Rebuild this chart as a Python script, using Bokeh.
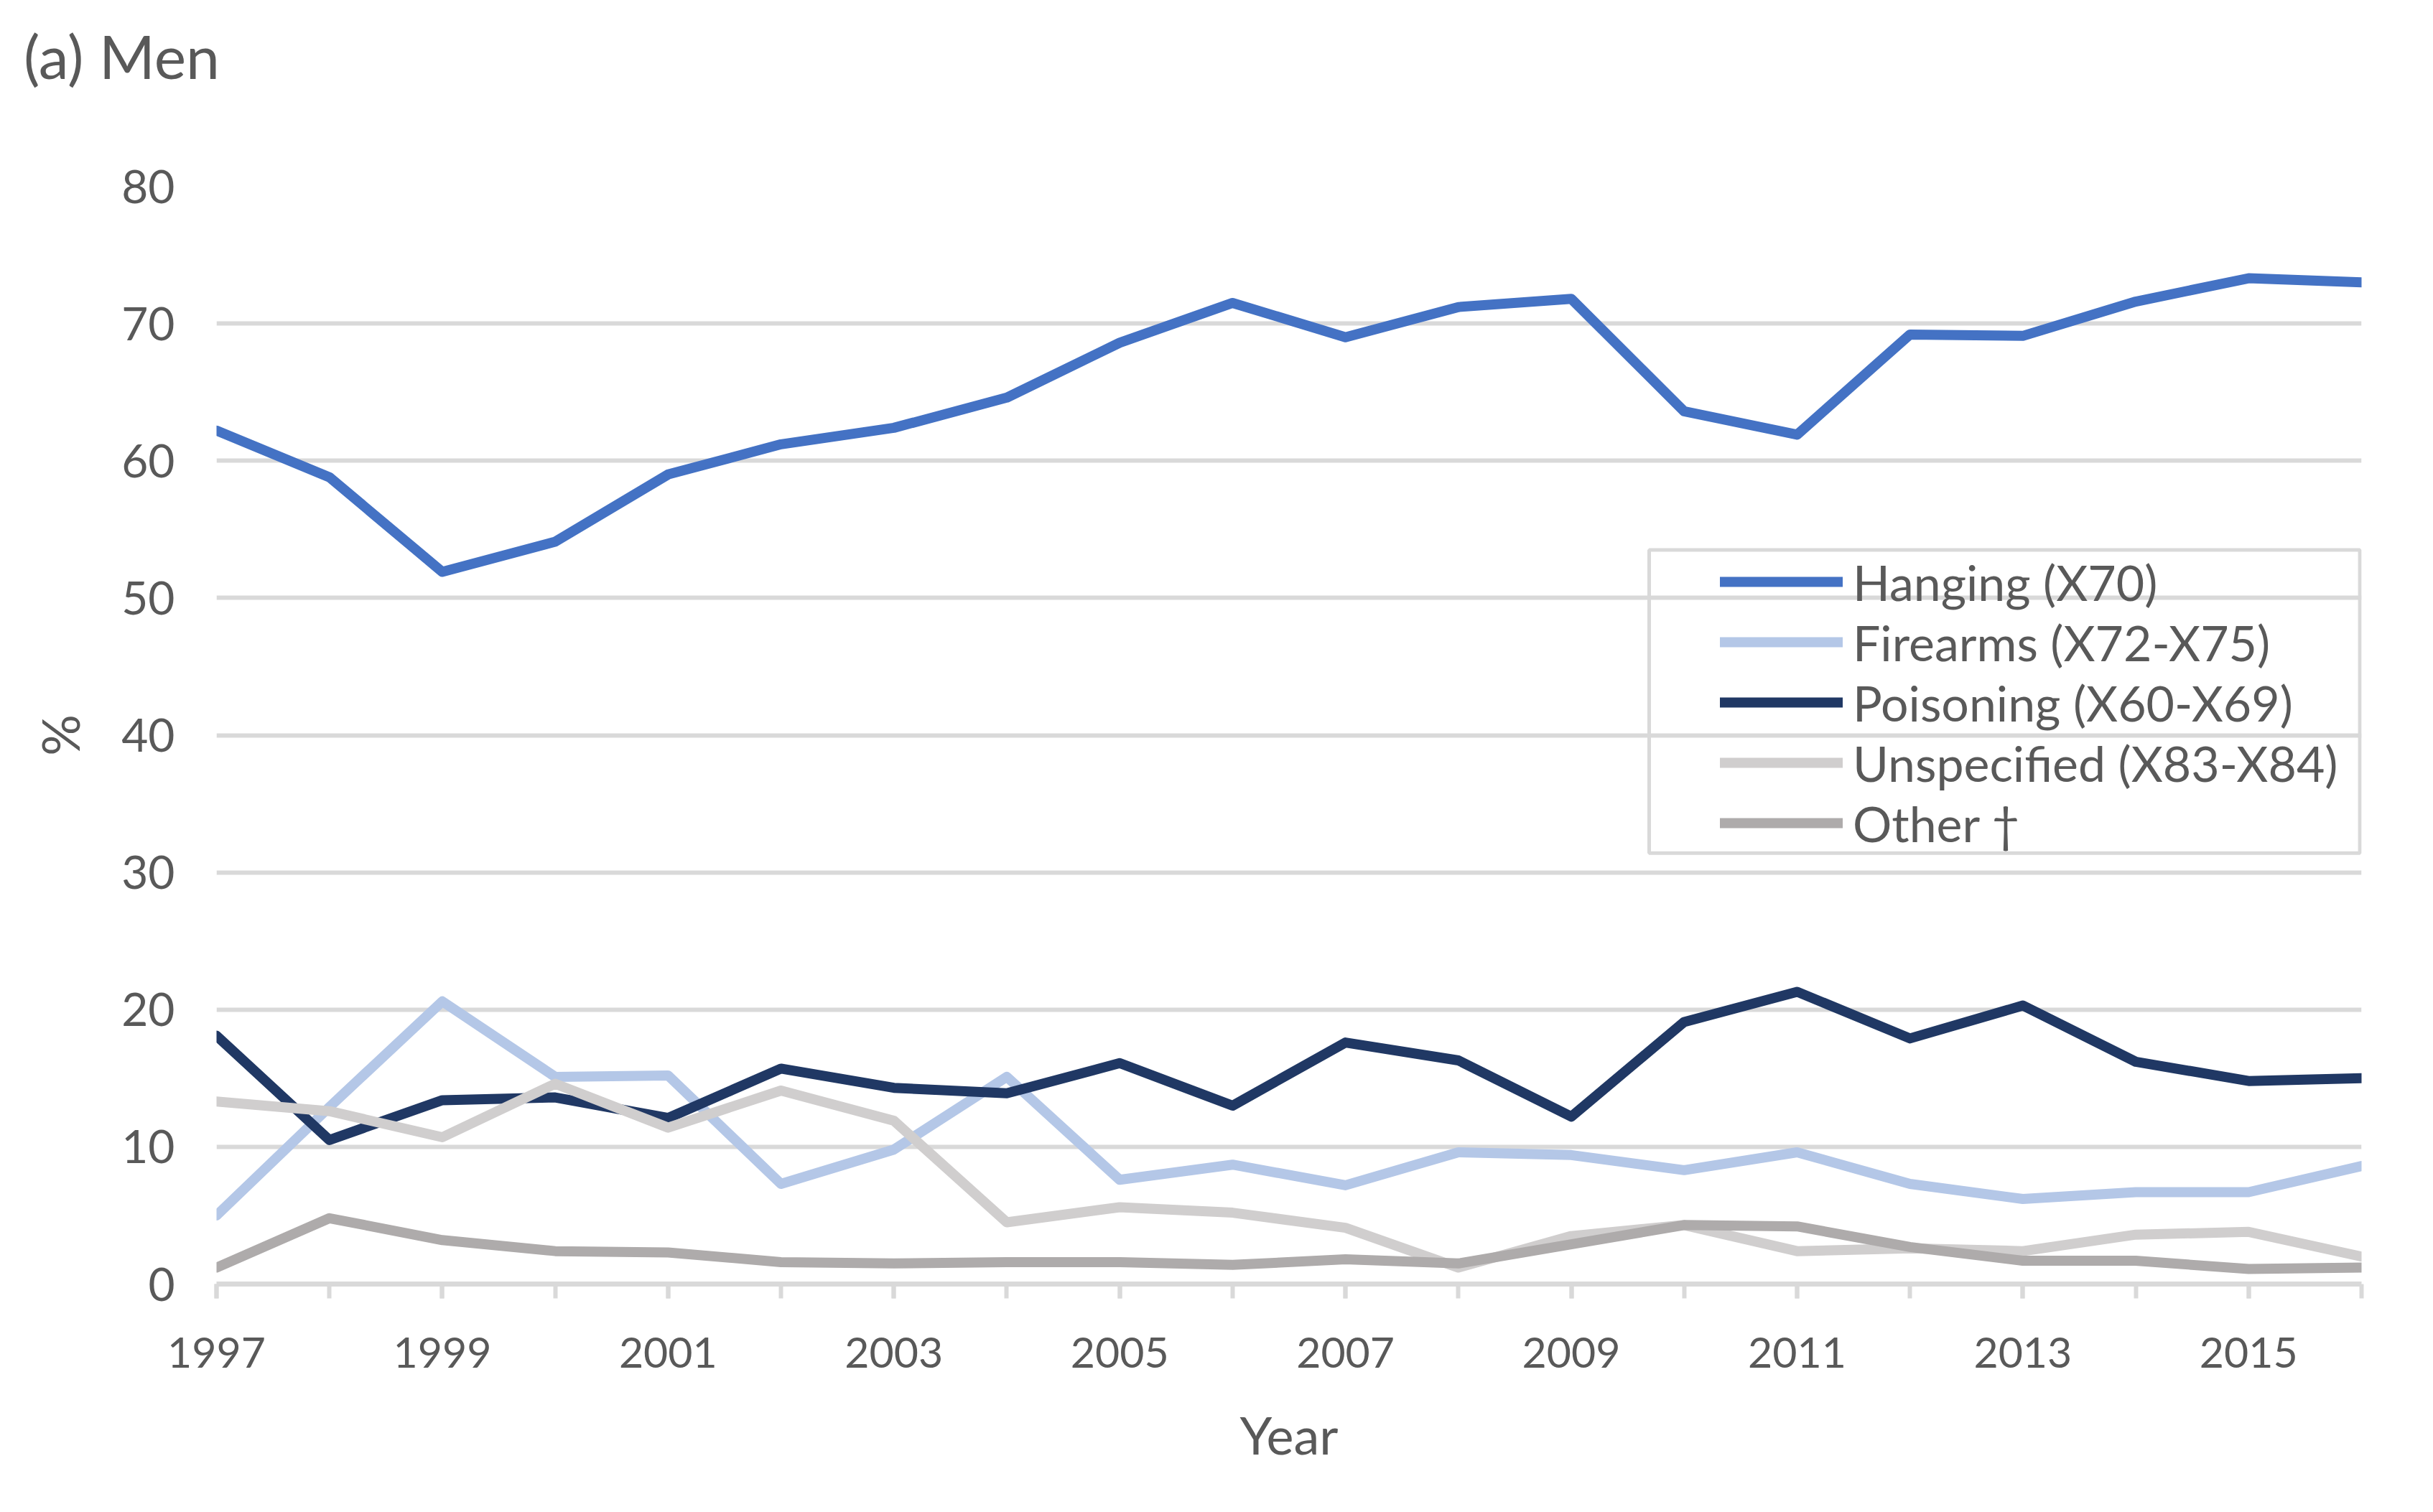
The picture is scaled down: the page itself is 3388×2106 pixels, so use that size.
from bokeh.plotting import figure
from bokeh.models import (Range1d, FixedTicker, Legend, LegendItem,
                          BoxAnnotation, Div)
from bokeh.layouts import column
from bokeh.embed import file_html
from bokeh.resources import INLINE

# ---- data ----
years = list(range(1997, 2017))
label_years = [1997, 1999, 2001, 2003, 2005, 2007, 2009, 2011, 2013, 2015]
y_ticks = [0, 10, 20, 30, 40, 50, 60, 70, 80]

hanging = [62.2, 58.8, 51.9, 54.1, 59.0, 61.2, 62.4, 64.6, 68.6, 71.5,
           69.0, 71.2, 71.8, 63.6, 61.9, 69.2, 69.1, 71.6, 73.3, 73.0]
firearms = [5.0, 12.9, 20.6, 15.1, 15.2, 7.3, 9.8, 15.1, 7.6, 8.7,
            7.2, 9.6, 9.4, 8.3, 9.6, 7.3, 6.2, 6.7, 6.7, 8.6]
poisoning = [18.1, 10.5, 13.4, 13.6, 12.1, 15.7, 14.3, 13.9, 16.1, 13.0,
             17.6, 16.3, 12.2, 19.1, 21.3, 17.9, 20.3, 16.2, 14.8, 15.0]
unspecified = [13.3, 12.6, 10.7, 14.6, 11.4, 14.1, 11.9, 4.5, 5.6, 5.2,
               4.1, 1.2, 3.5, 4.3, 2.4, 2.6, 2.4, 3.6, 3.8, 2.0]
other = [1.2, 4.8, 3.2, 2.4, 2.3, 1.6, 1.5, 1.6, 1.6, 1.4,
         1.8, 1.5, 2.9, 4.3, 4.2, 2.7, 1.7, 1.7, 1.1, 1.2]

series_names = ["Hanging (X70)", "Firearms (X72-X75)", "Poisoning (X60-X69)",
                "Unspecified (X83-X84)", "Other \u2020"]
series_values = [hanging, firearms, poisoning, unspecified, other]
series_colors = ["#4472C4", "#B4C7E7", "#203864", "#D0CECE", "#AEABAB"]

FONT = "Lato"
TXT = "#595959"
GRID = "#D9D9D9"

# panel heading
heading = Div(text="(a) Men", width=3339, height=102, margin=(28, 0, 0, 33),
              styles={"font-family": FONT, "font-size": "84px",
                      "color": TXT, "line-height": "1.2"})

p = figure(width=3372, height=1958,
           x_range=Range1d(1997, 2016), y_range=Range1d(0, 80),
           output_backend="svg", toolbar_location=None,
           min_border_left=301, min_border_right=84,
           min_border_top=129, min_border_bottom=300)
p.outline_line_color = None
p.background_fill_color = "white"

xa = p.below[0]
ya = p.left[0]

# grids
p.xgrid.visible = False
p.ygrid.grid_line_color = GRID
p.ygrid.grid_line_width = 6
p.ygrid.ticker = FixedTicker(ticks=y_ticks)

# x axis
xa.ticker = FixedTicker(ticks=label_years, minor_ticks=years)
xa.axis_line_color = GRID
xa.axis_line_width = 7
xa.major_tick_in = 0
xa.minor_tick_in = 0
xa.major_tick_out = 20
xa.minor_tick_out = 20
xa.major_tick_line_color = GRID
xa.minor_tick_line_color = GRID
xa.major_tick_line_width = 6
xa.minor_tick_line_width = 6
xa.major_label_standoff = 54
xa.major_label_text_font = FONT
xa.major_label_text_font_size = "59px"
xa.major_label_text_color = TXT
xa.axis_label = "Year"
xa.axis_label_text_font = FONT
xa.axis_label_text_font_size = "72px"
xa.axis_label_text_font_style = "normal"
xa.axis_label_text_color = TXT
xa.axis_label_standoff = 47

# y axis
ya.ticker = FixedTicker(ticks=y_ticks)
ya.axis_line_color = None
ya.major_tick_line_color = None
ya.minor_tick_line_color = None
ya.major_tick_out = 0
ya.minor_tick_out = 0
ya.major_tick_in = 0
ya.minor_tick_in = 0
ya.major_label_standoff = 58
ya.major_label_text_font = FONT
ya.major_label_text_font_size = "64px"
ya.major_label_text_color = TXT
ya.axis_label = "%"
ya.axis_label_text_font = FONT
ya.axis_label_text_font_size = "72px"
ya.axis_label_text_font_style = "normal"
ya.axis_label_text_color = TXT
ya.axis_label_standoff = 40

# lines
renderers = []
for name, vals, col in zip(series_names, series_values, series_colors):
    r = p.line(years, vals, line_color=col, line_width=14,
               line_join="round", line_cap="round")
    renderers.append(r)

# legend frame (drawn just inside the plotting area on the right)
box = BoxAnnotation(left=2009.69, right=2015.985, top=53.5, bottom=31.4,
                    fill_color=None, fill_alpha=0,
                    line_color=GRID, line_width=5, line_alpha=1,
                    level="underlay")
p.add_layout(box)

legend = Legend(
    items=[LegendItem(label=n, renderers=[r]) for n, r in zip(series_names, renderers)],
    location=(2094, 600), padding=0, margin=0, spacing=0,
    glyph_width=171, glyph_height=84, label_height=84, label_standoff=14,
    border_line_color=None, background_fill_alpha=0,
    label_text_font=FONT, label_text_font_size="68px", label_text_color=TXT,
)
p.add_layout(legend)

layout = column(heading, p, spacing=0)
open("out.html", "w").write(file_html(layout, INLINE))
